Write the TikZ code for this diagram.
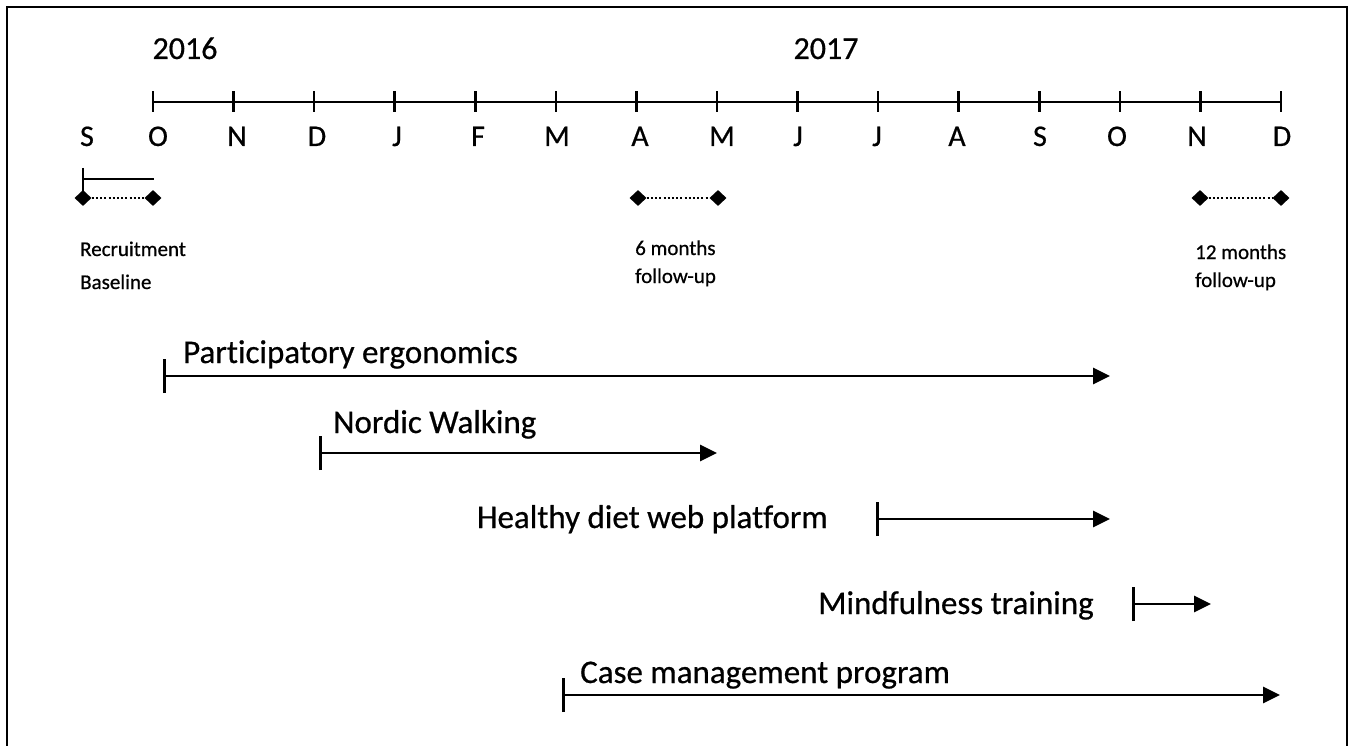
\documentclass[tikz,border=0pt]{standalone}
\usepackage{fontspec}
\setmainfont{Carlito}[FakeBold=0.6,Ligatures={NoCommon}]
\usetikzlibrary{arrows.meta,shapes.geometric}
\begin{document}
\begin{tikzpicture}[x=1pt,y=-1pt,
  frame/.style={line width=2pt},
  axis/.style={line width=2.8pt},
  axtick/.style={line width=2.6pt},
  month/.style={font=\fontsize{30}{34}\selectfont, anchor=base, inner sep=0pt},
  year/.style={font=\fontsize{32}{36}\selectfont, anchor=base, inner sep=0pt},
  small/.style={font=\fontsize{21}{24}\selectfont, anchor=base west, inner sep=0pt},
  blabel/.style={font=\fontsize{33}{38}\selectfont, inner sep=0pt},
  dia/.style={diamond, fill=black, inner sep=0pt, minimum width=17pt, minimum height=16pt},
  dotline/.style={line width=2pt, dash pattern=on 2pt off 2.2pt},
  bar/.style={line width=2.7pt, {Bar[width=34pt,line width=2.6pt]}-{Triangle[length=17pt,width=16pt]}},
  recline/.style={line width=2.4pt}]
\useasboundingbox (0,0) rectangle (1352,746);
% frame
\coordinate (fbl) at (7,747);
\coordinate (ftl) at (7,7);
\coordinate (ftr) at (1347,7);
\coordinate (fbr) at (1347,747);
\draw[frame] (fbl) -- (ftl) -- (ftr) -- (fbr);
% years
\node[year] (y2016) at (185,59) {2016};
\node[year] (y2017) at (826,59) {2017};
% axis
\coordinate (axs) at (153,102);
\coordinate (axe) at (1281,102);
\draw[axis] (axs) -- (axe);
\foreach \i in {0,...,14}{
  \coordinate (t\i) at ({153+80.571*\i},102);
  \draw[axtick] ([yshift=-10pt]t\i) -- ([yshift=10.5pt]t\i);
}
% months
\foreach \m/\x [count=\k] in {S/87,O/158,N/237,D/317,J/397,F/478,M/557,A/640,M/722,J/798,J/877,A/957,S/1040,O/1117,N/1197,D/1282}{
  \node[month] (m\k) at (\x,146) {\m};
}
% recruitment marker
\coordinate (rtop) at (83,168);
\coordinate (rh1) at (84,179);
\coordinate (rh2) at (154,179);
\node[dia] (r1) at (83,198) {};
\node[dia] (r2) at (153,198) {};
\draw[recline] (rtop) -- (r1.center);
\draw[recline] (rh1) -- (rh2);
\draw[dotline] (r1) -- (r2);
\node[small] (rec) at (80,256) {Recruitment};
\node[small] (base) at (80,289) {Baseline};
% 6 months
\node[dia] (s1) at (638,198) {};
\node[dia] (s2) at (718,198) {};
\draw[dotline] (s1) -- (s2);
\node[small] (six) at (635,255) {6 months};
\node[small] (sixf) at (635,283) {follow-up};
% 12 months
\node[dia] (w1) at (1200,198) {};
\node[dia] (w2) at (1281,198) {};
\draw[dotline] (w1) -- (w2);
\node[small] (twl) at (1195,259) {12 months};
\node[small] (twlf) at (1195,287) {follow-up};
% bars
\coordinate (pes) at (163,376);
\coordinate (pee) at (1110,376);
\draw[bar] (pes) -- (pee);
\node[blabel, anchor=base west] (pel) at (183,363) {Participatory ergonomics};
\coordinate (nws) at (319,453);
\coordinate (nwe) at (717,453);
\draw[bar] (nws) -- (nwe);
\node[blabel, anchor=base west] (nwl) at (333,433) {Nordic Walking};
\coordinate (hds) at (876,519);
\coordinate (hde) at (1110,519);
\draw[bar] (hds) -- (hde);
\node[blabel, anchor=base east] (hdl) at (828,528) {Healthy diet web platform};
\coordinate (mts) at (1132,604);
\coordinate (mte) at (1211,604);
\draw[bar] (mts) -- (mte);
\node[blabel, anchor=base east] (mtl) at (1094,614) {Mindfulness training};
\coordinate (cms) at (562,695);
\coordinate (cme) at (1280,695);
\draw[bar] (cms) -- (cme);
\node[blabel, anchor=base west] (cml) at (580,683) {Case management program};
\end{tikzpicture}
\end{document}
